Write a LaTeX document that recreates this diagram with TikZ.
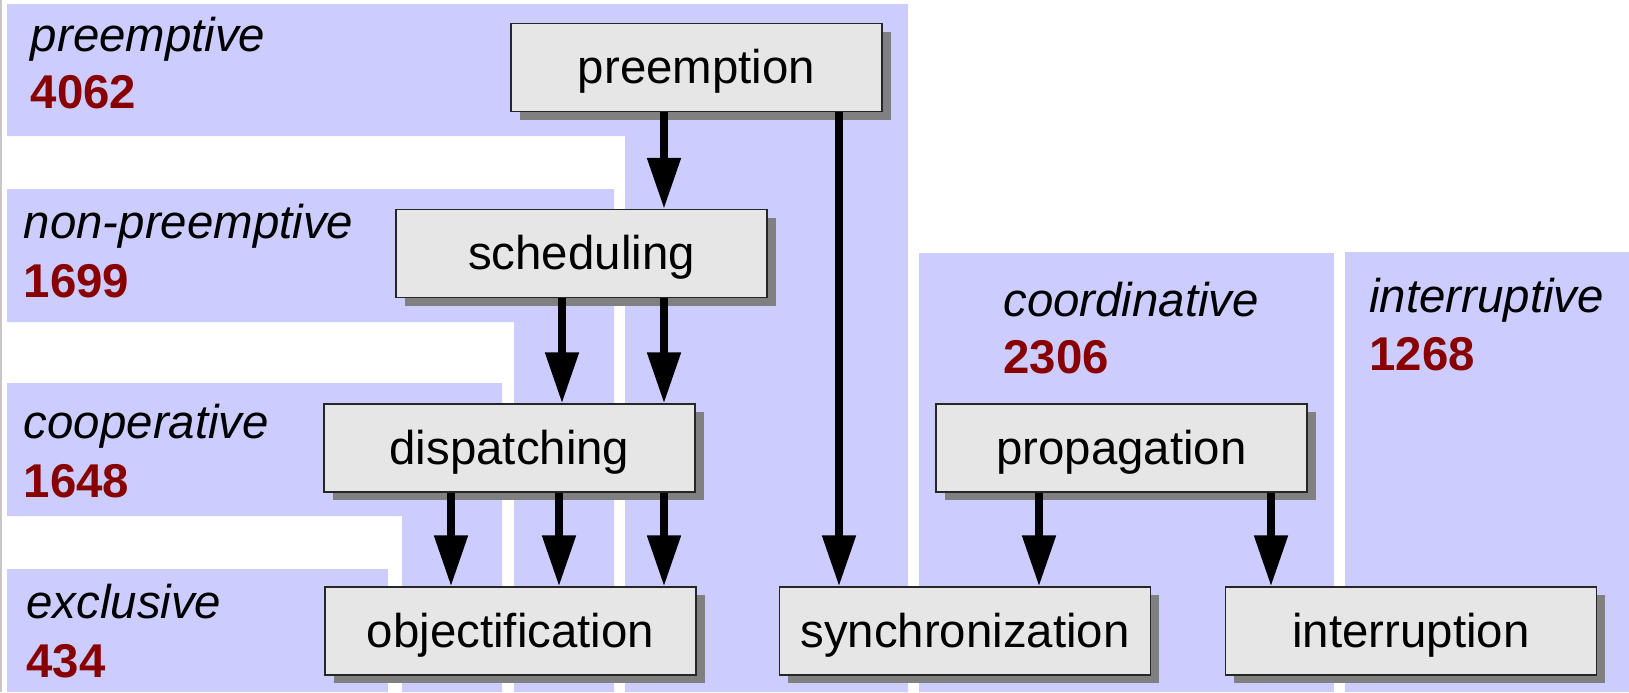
\documentclass[tikz,border=0pt]{standalone}
\usepackage{fontspec}
\setmainfont{Liberation Sans}
\usepackage{tikz}
\usetikzlibrary{shadows}
\usetikzlibrary{arrows.meta}
\usetikzlibrary{positioning}
\definecolor{bandblue}{HTML}{CCCCFF}
\definecolor{boxgray}{HTML}{E6E6E6}
\definecolor{countred}{HTML}{880000}
\tikzset{
    band/.style={fill=bandblue, draw=none},
    kind/.style={inner sep=0pt, anchor=base west,
          font=\fontsize{23.7}{28.4}\selectfont\itshape},
    count/.style={inner sep=0pt, anchor=base west, text=countred,
          font=\fontsize{23.7}{28.4}\selectfont\bfseries},
    flow/.style={line width=4pt, -{Triangle[length=25.5pt,width=16pt]}},
}

\begin{document}
\begin{tikzpicture}[x=0.5pt,y=-0.5pt,
                        f/.style={minimum width=185.5pt,
                                  minimum height=44pt,
                                  inner sep=0pt,
                                  text height=21pt, text depth=5pt,
                                  fill=boxgray,
                                  draw=black!85, line width=0.6pt,
                                  font=\fontsize{23.7}{28.4}\selectfont,
                                  drop shadow={shadow xshift=4.25pt,shadow yshift=-4pt,opacity=1},
                                  }]
        \useasboundingbox (0,0) rectangle (1629,692);
        \draw[black!22, line width=1pt] (1,0) -- (1,692);
        % bands
        \fill[band] (7,4) -- (908,4) -- (908,692) -- (625,692) -- (625,136) -- (7,136) -- cycle;
        \fill[band] (7,189) -- (614,189) -- (614,692) -- (514,692) -- (514,322) -- (7,322) -- cycle;
        \fill[band] (7,383) -- (502,383) -- (502,692) -- (402,692) -- (402,516) -- (7,516) -- cycle;
        \fill[band] (7,569) rectangle (388,692);
        \fill[band] (919,253) rectangle (1334,692);
        \fill[band] (1345,252) rectangle (1629,692);

        \node[kind] (t-pre) at (30.5,51) {preemptive};
        \node[count] (n-pre) at ([yshift=-28.5pt] t-pre.base west) {4062};
        \node[kind] (t-non) at (23.5,238) {non-preemptive};
        \node[count] (n-non) at ([yshift=-29.5pt] t-non.base west) {1699};
        \node[kind] (t-coop) at (23.5,438) {cooperative};
        \node[count] (n-coop) at ([yshift=-29.5pt] t-coop.base west) {1648};
        \node[kind] (t-excl) at (26,618) {exclusive};
        \node[count] (n-excl) at ([yshift=-29.5pt] t-excl.base west) {434};
        \node[kind] (t-coord) at (1003,316) {coordinative};
        \node[count] (n-coord) at ([yshift=-28.5pt] t-coord.base west) {2306};
        \node[kind] (t-intr) at (1369,312) {interruptive};
        \node[count] (n-intr) at ([yshift=-29pt] t-intr.base west) {1268};

        \node[f] (preempt) at (696.5,67.5) {preemption};
        \node[f] (sched) at (581.5,253.5) {scheduling};
        \node[f] (disp) at (509.5,448) {dispatching};
        \node[f] (obj) at (510.5,631) {objectification};
        \node[f] (sync) at (965,631) {synchronization};
        \node[f] (prop) at (1121.5,448) {propagation};
        \node[f] (intr) at (1411,631) {interruption};

        \draw[flow] ([xshift=-16.25pt] preempt.south) -- ([xshift=-16.25pt] preempt.south |- sched.north);
        \draw[flow] ([xshift=71.25pt] preempt.south) -- ([xshift=71.25pt] preempt.south |- sync.north);
        \draw[flow] ([xshift=-9.75pt] sched.south) -- ([xshift=-9.75pt] sched.south |- disp.north);
        \draw[flow] ([xshift=41.25pt] sched.south) -- ([xshift=41.25pt] sched.south |- disp.north);
        \draw[flow] ([xshift=-29.25pt] disp.south) -- ([xshift=-29.25pt] disp.south |- obj.north);
        \draw[flow] ([xshift=24.75pt] disp.south) -- ([xshift=24.75pt] disp.south |- obj.north);
        \draw[flow] ([xshift=77.25pt] disp.south) -- ([xshift=77.25pt] disp.south |- obj.north);
        \draw[flow] ([xshift=-41.25pt] prop.south) -- ([xshift=-41.25pt] prop.south |- sync.north);
        \draw[flow] ([xshift=74.75pt] prop.south) -- ([xshift=74.75pt] prop.south |- intr.north);
    \end{tikzpicture}
\end{document}
